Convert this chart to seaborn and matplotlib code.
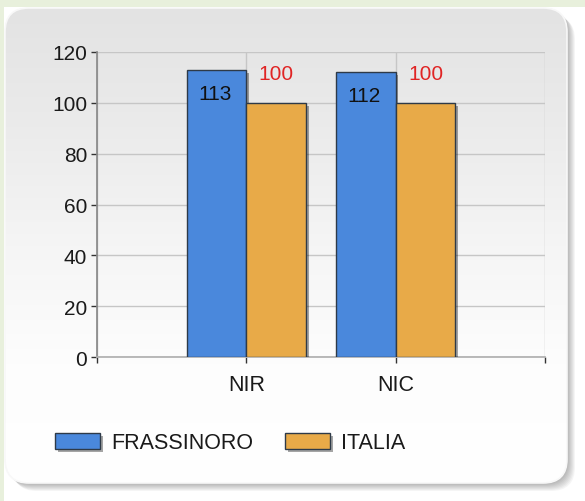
import numpy as np
import pandas as pd
import matplotlib
matplotlib.use('Agg')
import matplotlib.pyplot as plt
import matplotlib.patheffects as pe
from matplotlib.patches import FancyBboxPatch, Rectangle
import seaborn as sns

# data
categories = ['NIR', 'NIC']
frassinoro = [113, 112]
italia = [100, 100]
series_names = ['FRASSINORO', 'ITALIA']
y_ticks = [0, 20, 40, 60, 80, 100, 120]

BLUE = '#4a88dc'
ORANGE = '#e8aa48'
EDGE = '#2e3a48'
FS = 15

df = pd.DataFrame({
    'cat': categories * 2,
    'val': frassinoro + italia,
    'serie': [series_names[0]] * len(categories) + [series_names[1]] * len(categories),
})

sns.set_theme(style='white')
plt.rcParams['font.family'] = ['Liberation Sans', 'DejaVu Sans']

W, H = 585, 502
fig = plt.figure(figsize=(W / 100, H / 100), dpi=100)
fig.patch.set_facecolor('white')

# background: green strips + rounded panel with shadow and gradient
bg = fig.add_axes([0, 0, 1, 1], zorder=-1)
bg.set_xlim(0, W)
bg.set_ylim(H, 0)
bg.axis('off')
bg.add_patch(Rectangle((0, 0), W, 8, color='#e8f0dc', lw=0, zorder=0))
bg.add_patch(Rectangle((0, 0), 4, H, color='#e8f0dc', lw=0, zorder=0))

px0, px1, py0, py1 = 5, 567, 9, 484
for k in range(1, 9):
    bg.add_patch(FancyBboxPatch((px0 + k, py0 + k), px1 - px0, py1 - py0,
                                boxstyle='round,pad=0,rounding_size=24',
                                fc='black', ec='none', alpha=0.04, zorder=1))
panel = FancyBboxPatch((px0, py0), px1 - px0, py1 - py0,
                       boxstyle='round,pad=0,rounding_size=24',
                       fc='none', ec='#f8f8f8', lw=1.2, zorder=3)
bg.add_patch(panel)
grad = np.linspace(0, 1, 256).reshape(-1, 1)
cmap = matplotlib.colors.LinearSegmentedColormap.from_list(
    'g', ['#e3e3e3', '#ebebeb', '#f5f5f5', '#fdfdfd', '#ffffff'])
im = bg.imshow(grad, cmap=cmap, extent=(px0, px1, py1, py0), aspect='auto', zorder=2)
im.set_clip_path(panel)

# chart axes
ax = fig.add_axes([97 / W, 1 - 358 / H, (545 - 97) / W, (358 - 53) / H])
ax.set_facecolor('none')

sns.barplot(data=df, x='cat', y='val', hue='serie', palette=[BLUE, ORANGE],
            saturation=1, width=0.8, edgecolor=EDGE, linewidth=1.0, ax=ax, zorder=3)

shadow = [pe.SimplePatchShadow(offset=(2, -2), shadow_rgbFace='black', alpha=0.35), pe.Normal()]
for p in ax.patches:
    p.set_path_effects(shadow)

# value labels
for cont, col, off in zip(ax.containers, ['#111111', '#e02424'], [(-1, -17), (0, 21)]):
    for bar, v in zip(cont, cont.datavalues):
        ax.annotate(f'{v:.0f}', (bar.get_x() + bar.get_width() / 2, v),
                    xytext=off, textcoords='offset points',
                    ha='center', va='center', fontsize=FS, color=col, zorder=5)

ax.set_xlim(-1, 2)
ax.set_ylim(0, 120)
ax.set_yticks(y_ticks)
ax.set_xticks([-1, 0, 1, 2])
ax.set_xticklabels([''] + categories + [''])
ax.grid(True, color='#c6c6c6', lw=1.0, zorder=0)
ax.set_axisbelow(True)
for s in ['top', 'right']:
    ax.spines[s].set_visible(False)
ax.spines['left'].set_color('#8a8a8a')
ax.spines['bottom'].set_color('#b0b0b0')
ax.tick_params(axis='both', which='both', length=4, width=1, color='#333333',
               labelsize=FS, labelcolor='#1a1a1a', pad=3, left=True, bottom=True)
ax.tick_params(axis='x', pad=8, labelsize=15.5)
ax.set_xlabel('')
ax.set_ylabel('')

# legend at the bottom of the panel
handles, labels = ax.get_legend_handles_labels()
ax.legend_.remove()
leg = fig.legend(handles, labels, loc='center left', bbox_to_anchor=(55 / W, 1 - 444 / H),
                 bbox_transform=fig.transFigure, ncol=2, frameon=False, fontsize=15.5,
                 handlelength=2.1, handleheight=0.75, handletextpad=0.5,
                 columnspacing=1.5, borderpad=0, borderaxespad=0)
for h in leg.get_patches():
    h.set_edgecolor(EDGE)
    h.set_path_effects(shadow)
for t in leg.get_texts():
    t.set_color('#1a1a1a')

fig.savefig('out.png', dpi=100)
